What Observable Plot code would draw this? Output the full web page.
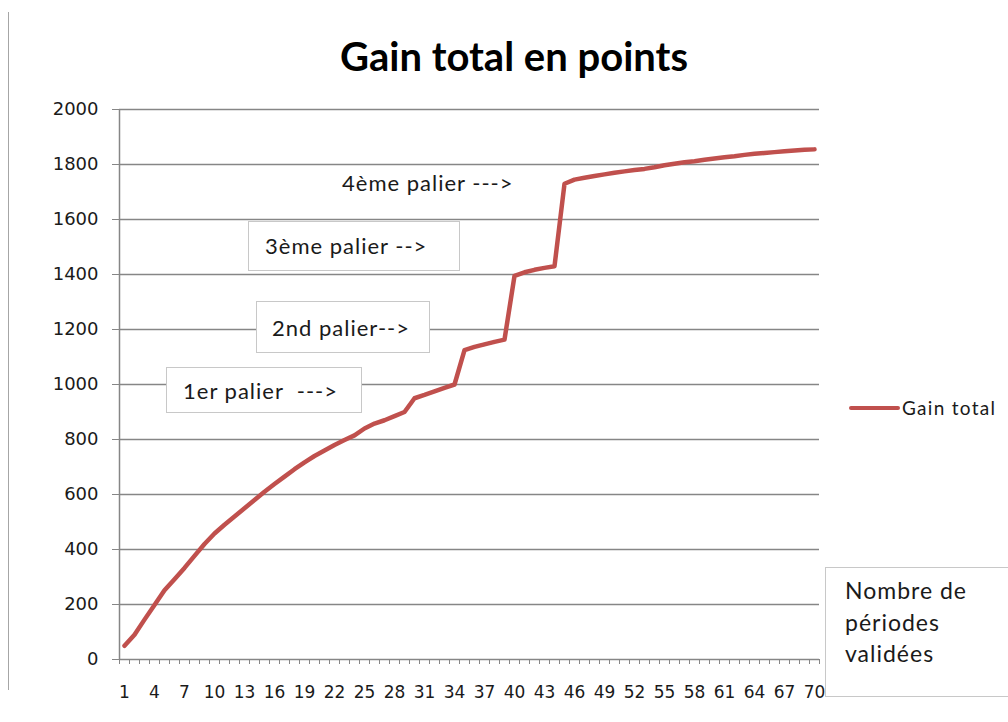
<!DOCTYPE html>
<html><head><meta charset="utf-8">
<script src="https://cdn.jsdelivr.net/npm/d3@7"></script>
<script src="https://cdn.jsdelivr.net/npm/@observablehq/plot@0.6"></script>
<style>
body{margin:0;background:#fff;}
#wrap{position:relative;width:1008px;height:722px;overflow:hidden;background:#fff;}
#wrap svg{position:absolute;left:0;top:0;}
.lbl{position:absolute;font-family:Lato,"Open Sans",sans-serif;color:#1a1a1a;white-space:pre;}
.ann{font-size:22px;line-height:26px;letter-spacing:1px;}
.box{position:absolute;background:#fff;border:1.5px solid #c8c8c8;box-sizing:border-box;}
#title{position:absolute;left:0;width:1028px;top:36px;text-align:center;font-family:Lato,sans-serif;font-weight:bold;font-size:40px;line-height:40px;color:#000;}
#frame{position:absolute;left:8px;top:12px;height:678px;border-left:1.5px solid #a6a6a6;}
</style></head><body><div id="wrap"></div>
<script>
const chartTitle = "Gain total en points";
const seriesName = "Gain total";
const periods = Array.from({length: 70}, (_, i) => i + 1);
const gainTotal = [
  50, 90, 145, 198, 252, 292, 333, 377, 420, 458,
  490, 520, 550, 580, 610, 638, 665, 692, 717, 740,
  760, 780, 798, 815, 840, 858, 870, 885, 900, 950,
  962, 975, 988, 1000, 1125, 1137, 1146, 1155, 1163, 1395,
  1408, 1417, 1424, 1430, 1730, 1745, 1752, 1758, 1764, 1770,
  1775, 1780, 1784, 1790, 1797, 1803, 1808, 1812, 1817, 1822,
  1826, 1830, 1835, 1839, 1842, 1845, 1848, 1851, 1854, 1855
];
const xTickLabels = [1,4,7,10,13,16,19,22,25,28,31,34,37,40,43,46,49,52,55,58,61,64,67,70];
const yTicks = [0,200,400,600,800,1000,1200,1400,1600,1800,2000];
const annotations = ["1er palier  --->", "2nd palier-->", "3ème palier -->", "4ème palier --->"];
const axisNote = ["Nombre de", "périodes", "validées"];

const data = periods.map((p, i) => ({periode: p, gain: gainTotal[i]}));
const bounds = d3.range(0.5, 71, 1);
const grey = "#868686";

const chart = Plot.plot({
  width: 1008, height: 722,
  marginLeft: 119, marginRight: 189, marginTop: 109, marginBottom: 63,
  x: {domain: [0.5, 70.5]},
  y: {domain: [0, 2000]},
  style: {fontFamily: "DejaVu Sans", fontSize: "17px", color: "#000", background: "transparent", overflow: "visible"},
  marks: [
    Plot.gridY(yTicks.filter(v => v > 0), {stroke: grey, strokeOpacity: 1, strokeWidth: 1.5}),
    Plot.ruleY([0], {stroke: grey, strokeWidth: 1.5}),
    Plot.ruleX([0.5], {stroke: grey, strokeWidth: 1.5}),
    Plot.axisY(yTicks, {tickSize: 7, tickPadding: 14, tickFormat: d3.format("d"), stroke: grey, strokeOpacity: 1, fill: "#1a1a1a", label: null, fontSize: 18}),
    Plot.axisX(bounds, {tickSize: 5, tickFormat: () => "", stroke: grey, strokeOpacity: 1, label: null}),
    Plot.axisX(xTickLabels, {tickSize: 0, tickPadding: 26, tickFormat: d3.format("d"), fill: "#1a1a1a", label: null, fontSize: 17}),
    Plot.line(data, {x: "periode", y: "gain", stroke: "#C0504D", strokeWidth: 4.5, strokeLinejoin: "round", strokeLinecap: "round"})
  ]
});
const wrap = document.getElementById("wrap");
wrap.appendChild(chart);

function add(html){ wrap.insertAdjacentHTML("beforeend", html); }
add(`<div id="frame"></div>`);
add(`<div id="title">${chartTitle}</div>`);
// annotation boxes
add(`<div class="box" style="left:166px;top:367px;width:196px;height:46px"></div>`);
add(`<div class="lbl ann" style="left:183px;top:378px">${annotations[0]}</div>`);
add(`<div class="box" style="left:256px;top:301px;width:174px;height:52px"></div>`);
add(`<div class="lbl ann" style="left:272px;top:315px">${annotations[1]}</div>`);
add(`<div class="box" style="left:248px;top:221px;width:212px;height:50px"></div>`);
add(`<div class="lbl ann" style="left:265px;top:233px">${annotations[2]}</div>`);
add(`<div class="lbl ann" style="left:342px;top:170px">${annotations[3]}</div>`);
// legend
add(`<div style="position:absolute;left:849px;top:406px;width:51px;height:4px;background:#C0504D;border-radius:2px"></div>`);
add(`<div class="lbl" style="left:902px;top:396px;font-size:19px;line-height:24px;letter-spacing:1.3px">${seriesName}</div>`);
// axis note box
add(`<div class="box" style="left:825px;top:567px;width:200px;height:130px"></div>`);
add(`<div class="lbl" style="left:845px;top:575px;font-size:23px;line-height:31.5px;letter-spacing:1px">${axisNote.join("\n")}</div>`);
</script>
</body></html>
